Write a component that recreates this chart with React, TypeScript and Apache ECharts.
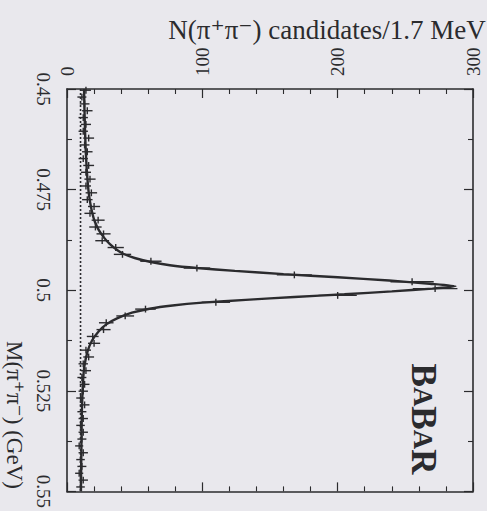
import React, { useEffect, useRef } from "react";
import * as echarts from "echarts";

// Bin centres (GeV) and candidate counts per 1.7 MeV bin
const binMass = [
  0.4503, 0.452, 0.4537, 0.4554, 0.4571, 0.4588, 0.4605, 0.4622, 0.4639, 0.4656,
  0.4673, 0.469, 0.4707, 0.4724, 0.4741, 0.4758, 0.4775, 0.4792, 0.4809, 0.4826,
  0.4843, 0.486, 0.4877, 0.4894, 0.4911, 0.4928, 0.4945, 0.4962, 0.4979, 0.4996,
  0.5013, 0.503, 0.5047, 0.5064, 0.5081, 0.5098, 0.5115, 0.5132, 0.5149, 0.5166,
  0.5183, 0.52, 0.5217, 0.5234, 0.5251, 0.5268, 0.5285, 0.5302, 0.5319, 0.5336,
  0.5353, 0.537, 0.5387, 0.5404, 0.5421, 0.5438, 0.5455, 0.5472, 0.5489,
];
const binCounts = [
  14, 11, 13, 15, 12, 14, 12, 16, 13, 15,
  12, 16, 14, 17, 14, 18, 15, 20, 17, 23,
  21, 27, 26, 36, 41, 62, 96, 168, 255, 272,
  200, 110, 58, 43, 29, 27, 19, 20, 14, 16,
  12, 14, 11, 13, 12, 10, 13, 11, 12, 10,
  12, 11, 9, 12, 10, 11, 9, 12, 10,
];

// Fit curve (signal + background)
const fitMass = [
  0.45, 0.455, 0.46, 0.465, 0.47, 0.475, 0.478, 0.481, 0.483, 0.485,
  0.487, 0.4885, 0.49, 0.491, 0.492, 0.493, 0.4938, 0.4945, 0.4952, 0.496,
  0.4968, 0.4976, 0.4984, 0.499, 0.4996, 0.5003, 0.501, 0.5017, 0.5024, 0.5031,
  0.5038, 0.5046, 0.5056, 0.507, 0.5085, 0.5102, 0.5125, 0.5152, 0.519, 0.523,
  0.53, 0.54, 0.55,
];
const fitCounts = [
  12.6, 12.9, 13.3, 13.8, 14.6, 15.8, 17, 18.8, 20.6, 23.4,
  27.5, 31.5, 37, 42, 50, 62, 76, 96, 124, 160,
  200, 238, 268, 287, 270, 240, 205, 168, 132, 100,
  78, 61, 48, 37, 29, 23.5, 18.5, 15.2, 12.8, 11.8,
  11, 10.6, 10.3,
];

// Background component (dotted)
const bkgMass = [0.45, 0.55];
const bkgCounts = [10, 10];

const INK = "#2b2b2e";
const SERIF = "'Liberation Serif', 'DejaVu Serif', serif";

export default function App() {
  const ref = useRef<HTMLDivElement>(null);

  useEffect(() => {
    if (!ref.current) return;
    const chart = echarts.init(ref.current, null, { renderer: "svg" });

    const tickCommon = {
      axisLine: { show: true, onZero: false, lineStyle: { color: INK, width: 1.6 } },
      splitLine: { show: false },
    };

    chart.setOption({
      animation: false,
      backgroundColor: "#e9e8ed",
      grid: { left: 67, right: 14, top: 89, bottom: 17, containLabel: false },
      xAxis: [
        {
          type: "value",
          min: 0,
          max: 300,
          interval: 100,
          position: "top",
          ...tickCommon,
          axisTick: { show: true, inside: true, length: 9, lineStyle: { color: INK, width: 1.2 } },
          minorTick: { show: true, splitNumber: 5, length: 5, lineStyle: { color: INK, width: 1.1 } },
          axisLabel: {
            show: true,
            rotate: -90,
            margin: 13,
            color: INK,
            fontFamily: SERIF,
            fontSize: 19,
          },
        },
        {
          type: "value",
          min: 0,
          max: 300,
          interval: 100,
          position: "bottom",
          ...tickCommon,
          axisTick: { show: true, inside: true, length: 9, lineStyle: { color: INK, width: 1.2 } },
          minorTick: { show: true, splitNumber: 5, length: 5, lineStyle: { color: INK, width: 1.1 } },
          axisLabel: { show: false },
        },
      ],
      yAxis: [
        {
          type: "value",
          min: 0.45,
          max: 0.55,
          interval: 0.025,
          inverse: true,
          position: "left",
          ...tickCommon,
          axisTick: { show: true, inside: true, length: 9, lineStyle: { color: INK, width: 1.2 } },
          minorTick: { show: true, splitNumber: 2, length: 5, lineStyle: { color: INK, width: 1.1 } },
          axisLabel: {
            show: true,
            rotate: -90,
            margin: 14,
            color: INK,
            fontFamily: SERIF,
            fontSize: 19,
            formatter: (v: number) => String(+v.toFixed(3)),
          },
        },
        {
          type: "value",
          min: 0.45,
          max: 0.55,
          interval: 0.025,
          inverse: true,
          position: "right",
          ...tickCommon,
          axisTick: { show: true, inside: true, length: 9, lineStyle: { color: INK, width: 1.2 } },
          minorTick: { show: true, splitNumber: 2, length: 5, lineStyle: { color: INK, width: 1.1 } },
          axisLabel: { show: false },
        },
      ],
      graphic: [
        {
          type: "text",
          x: 327,
          y: 30,
          style: {
            text: "N(π⁺π⁻) candidates/1.7 MeV",
            font: `27px ${SERIF}`,
            fill: INK,
            textAlign: "center",
            textVerticalAlign: "middle",
          },
        },
        {
          type: "text",
          x: 14,
          y: 415,
          rotation: -Math.PI / 2,
          style: {
            text: "M(π⁺π⁻) (GeV)",
            font: `23px ${SERIF}`,
            fill: INK,
            textAlign: "center",
            textVerticalAlign: "middle",
          },
        },
        {
          type: "text",
          x: 423,
          y: 419,
          rotation: -Math.PI / 2,
          style: {
            text: "{b|B}{a|A}{b|B}{a|A}{b|R}",
            rich: {
              b: { fontFamily: SERIF, fontSize: 35, fontWeight: "bold", fill: INK, color: INK },
              a: { fontFamily: SERIF, fontSize: 27, fontWeight: "bold", fill: INK, color: INK },
            },
            textAlign: "center",
            textVerticalAlign: "middle",
          },
        },
      ],
      series: [
        {
          type: "line",
          name: "background",
          xAxisIndex: 0,
          yAxisIndex: 0,
          data: bkgCounts.map((c, i) => [c, bkgMass[i]]),
          showSymbol: false,
          lineStyle: { color: INK, width: 1.6, type: [2, 2] },
          silent: true,
        },
        {
          type: "line",
          name: "fit",
          xAxisIndex: 0,
          yAxisIndex: 0,
          data: fitCounts.map((c, i) => [c, fitMass[i]]),
          showSymbol: false,
          smooth: 0.2,
          lineStyle: { color: INK, width: 2.4 },
          silent: true,
        },
        {
          type: "custom",
          name: "data",
          xAxisIndex: 0,
          yAxisIndex: 0,
          data: binCounts.map((c, i) => [c, binMass[i]]),
          encode: { x: 0, y: 1 },
          renderItem: (_params: any, api: any) => {
            const c = api.value(0);
            const m = api.value(1);
            const e = Math.sqrt(c);
            const p1 = api.coord([c - e, m]);
            const p2 = api.coord([c + e, m]);
            const q1 = api.coord([c, m - 0.00085]);
            const q2 = api.coord([c, m + 0.00085]);
            const st = { stroke: INK, lineWidth: 1.4 };
            return {
              type: "group",
              children: [
                { type: "line", shape: { x1: p1[0], y1: p1[1], x2: p2[0], y2: p2[1] }, style: st },
                { type: "line", shape: { x1: q1[0], y1: q1[1], x2: q2[0], y2: q2[1] }, style: st },
              ],
            };
          },
          silent: true,
        },
      ],
    });

    return () => chart.dispose();
  }, []);

  return (
    <div
      ref={ref}
      style={{ position: "fixed", left: 0, top: 0, width: 487, height: 511 }}
    />
  );
}
